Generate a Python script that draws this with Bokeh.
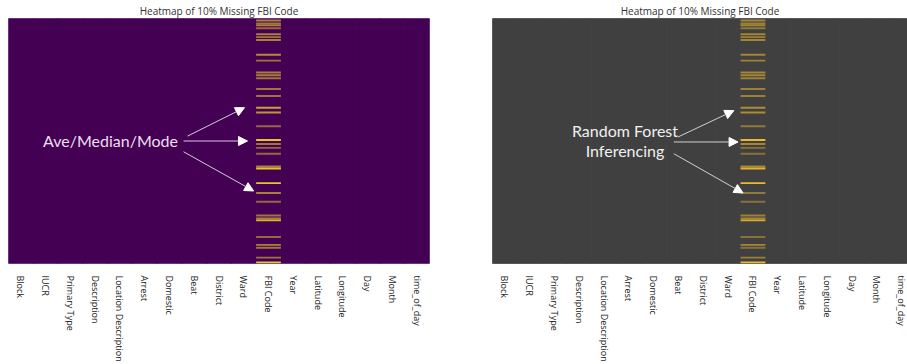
from bokeh.plotting import figure
from bokeh.layouts import row
from bokeh.models import ColumnDataSource, Range1d, FixedTicker, Arrow, NormalHead, Label
from bokeh.embed import file_html
from bokeh.resources import INLINE

# Columns of the crime table (heatmap x axis)
columns = ["Block", "IUCR", "Primary Type", "Description", "Location Description",
           "Arrest", "Domestic", "Beat", "District", "Ward", "FBI Code", "Year",
           "Latitude", "Longitude", "Day", "Month", "time_of_day"]
n_rows = 250

# First record of each block of records where FBI Code was missing (and then imputed)
missing_rows = [1, 4, 6, 9, 15, 18, 21, 36, 42, 54, 57, 60, 71, 78, 90, 95, 109,
                123, 127, 131, 137, 150, 152, 167, 177, 186, 200, 203, 205,
                222, 230, 233, 243, 248]
# Length of each missing block (records)
block_len = [2, 2, 2, 2, 2, 2, 2, 2, 2, 2, 2, 2, 2, 2, 2, 2, 2,
             2, 2, 2, 2, 2, 2, 2, 2, 2, 2, 2, 2,
             2, 2, 2, 2, 2]
# Relative strength of each imputed value as shown by the colour scale
mean_fill_level = [0.55, 0.5, 0.55, 0.45, 0.55, 0.5, 0.55, 0.6, 0.5, 0.55, 0.55, 0.5,
                   0.5, 0.5, 0.7, 0.65, 0.45, 0.85, 0.5, 0.45, 0.45, 0.55, 0.85,
                   0.85, 0.55, 0.45, 0.5, 0.55, 0.8, 0.45, 0.55, 0.5, 0.5, 0.85]
forest_fill_level = [0.55, 0.5, 0.55, 0.45, 0.55, 0.5, 0.55, 0.55, 0.5, 0.55, 0.55, 0.5,
                     0.5, 0.5, 0.6, 0.6, 0.45, 0.95, 0.55, 0.4, 0.4, 0.55, 0.9,
                     0.95, 0.45, 0.4, 0.5, 0.55, 0.85, 0.4, 0.55, 0.4, 0.5, 0.95]

TITLE = "Heatmap of 10% Missing FBI Code"
fbi_idx = columns.index("FBI Code")


def heatmap(width, left_border, right_border, x_end, bg, stripe, levels, outline):
    p = figure(width=width, height=364, output_backend="svg", toolbar_location=None,
               x_range=Range1d(-0.5, x_end), y_range=Range1d(n_rows, 0),
               min_border_left=left_border, min_border_right=right_border,
               min_border_top=17, min_border_bottom=96, title=TITLE)
    p.title.align = "center"
    p.title.text_font = "Open Sans"
    p.title.text_font_size = "10px"
    p.title.text_font_style = "normal"
    p.title.text_color = "#333333"
    p.title.standoff = 2
    p.background_fill_color = "white"
    p.border_fill_color = "white"
    p.outline_line_color = outline
    p.outline_line_width = 1
    p.grid.visible = False
    p.yaxis.visible = False

    # present cells: one full-height block per column
    base = ColumnDataSource(dict(x=list(range(len(columns))), top=[n_rows] * len(columns),
                                 bottom=[0] * len(columns)))
    p.vbar(x="x", top="top", bottom="bottom", width=1.0, source=base,
           fill_color=bg, line_color=bg, line_width=1)

    # imputed cells in the FBI Code column
    st = ColumnDataSource(dict(x=[fbi_idx] * len(missing_rows),
                               bottom=missing_rows,
                               top=[r + n for r, n in zip(missing_rows, block_len)],
                               a=levels))
    p.vbar(x="x", top="top", bottom="bottom", width=1.0, source=st,
           fill_color=stripe, fill_alpha="a", line_color=None)

    ax = p.xaxis[0]
    ax.ticker = FixedTicker(ticks=list(range(len(columns))))
    ax.major_label_overrides = {i: c for i, c in enumerate(columns)}
    ax.major_label_orientation = "vertical"
    ax.major_label_text_font = "Open Sans"
    ax.major_label_text_font_size = "9px"
    ax.major_label_text_color = "#222222"
    ax.major_label_standoff = 6
    ax.axis_line_color = None
    ax.major_tick_line_color = None
    ax.minor_tick_line_color = None
    return p


def arrow(p, x0, y0, x1, y1, color):
    p.add_layout(Arrow(x_start=x0, y_start=y0, x_end=x1, y_end=y1,
                       line_color=color, line_width=1,
                       end=NormalHead(size=9, fill_color="white", line_color="white")))


# Mean/median/mode imputation
left = heatmap(455, 8, 26, 16.5, "#440154", "#fde725", mean_fill_level, "#a98bb8")
left.add_layout(Label(x=3.62, y=124, text="Ave/Median/Mode", text_align="center",
                      text_baseline="middle", text_font="Lato", text_font_size="16px",
                      text_color="#ebdff0"))
arrow(left, 6.73, 120, fbi_idx - 0.97, 91, "#d8c8e0")
arrow(left, 6.57, 125, fbi_idx - 0.85, 125, "#d8c8e0")
arrow(left, 6.57, 136, fbi_idx - 0.6, 176, "#d8c8e0")

# Random forest imputation
right = heatmap(452, 37, 0, 16.23, "#404040", "#f5bf2a", forest_fill_level, "#8a7a95")
right.add_layout(Label(x=4.84, y=114, text="Random Forest", text_align="center",
                       text_baseline="middle", text_font="Lato", text_font_size="16px",
                       text_color="#f0f0f0"))
right.add_layout(Label(x=4.84, y=135, text="Inferencing", text_align="center",
                       text_baseline="middle", text_font="Lato", text_font_size="16px",
                       text_color="#f0f0f0"))
arrow(right, 6.97, 121, fbi_idx - 0.77, 94, "#d0d0d0")
arrow(right, 6.81, 126, fbi_idx - 0.6, 126, "#d0d0d0")
arrow(right, 6.81, 138, fbi_idx - 0.4, 178, "#d0d0d0")

page = row(left, right)
open("out.html", "w").write(file_html(page, INLINE))
